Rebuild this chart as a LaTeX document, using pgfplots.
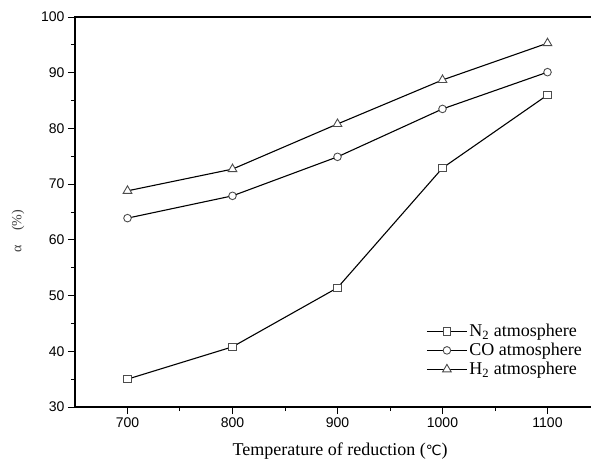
\documentclass[border=0pt]{standalone}
\usepackage{pgfplots}
\pgfplotsset{compat=1.18}
\usepackage{fontspec}
\setmainfont{Liberation Serif}
\setsansfont{Liberation Sans}
\newfontfamily\symfont{DejaVu Sans}

\begin{document}
\begin{tikzpicture}
\useasboundingbox (-75pt,-61pt) rectangle (516pt,407pt);
\begin{axis}[
  name=ax,
  scale only axis,
  width=525pt, height=390pt,
  xmin=650, xmax=1150,
  ymin=30, ymax=100,
  xtick={700,800,900,1000,1100},
  ytick={30,40,50,60,70,80,90,100},
  minor x tick num=1,
  minor y tick num=1,
  tick pos=left,
  tick align=outside,
  major tick length=7pt,
  minor tick length=4pt,
  every tick/.style={black, line width=1pt},
  axis line style={line width=1.3pt},
  /pgf/number format/assume math mode=true,
  /pgf/number format/1000 sep={},
  tick label style={font=\fontsize{14}{16}\sffamily},
  xlabel={Temperature of reduction ({\symfont\fontsize{14}{16}\selectfont ℃})},
  xlabel style={font=\fontsize{18}{20}\selectfont, at={(axis description cs:0.505,0)}, anchor=base, yshift=-48pt},
  legend style={draw=none, fill=none, font=\fontsize{18}{20}\selectfont,
    at={(axis description cs:0.667,0.22)}, anchor=north west,
    row sep=1pt, inner sep=1pt},
  legend cell align=left,
  legend image code/.code={\draw[mark repeat=2, mark phase=2] plot coordinates {(0pt,0pt) (20pt,0pt) (40pt,0pt)};},
  every axis plot/.append style={black, line width=1.1pt,
    mark options={draw=black!70, fill=white, line width=0.9pt, solid}},
]
\addplot[mark=square*, mark size=3.6pt] coordinates {(700,35.0) (800,40.8) (900,51.4) (1000,72.9) (1100,86.0)};
\addlegendentry{N\textsubscript{2} atmosphere}
\addplot[mark=*, mark size=3.8pt] coordinates {(700,63.9) (800,67.9) (900,74.9) (1000,83.5) (1100,90.1)};
\addlegendentry{CO atmosphere}
\addplot[mark=triangle*, mark size=5pt] coordinates {(700,68.8) (800,72.7) (900,80.8) (1000,88.7) (1100,95.3)};
\addlegendentry{H\textsubscript{2} atmosphere}
\end{axis}
% y label, left of the tick labels
\node[rotate=90, font=\fontsize{14}{16}\selectfont, text=black!75, anchor=center]
  at (-57pt,176pt) {α\quad(\%)};
\end{tikzpicture}
\end{document}
